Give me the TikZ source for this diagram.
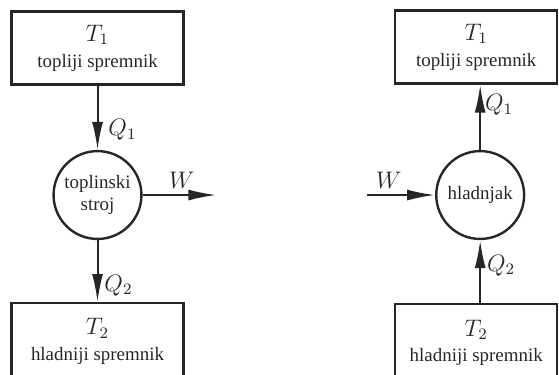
\documentclass[tikz,border=0pt]{standalone}
\usepackage{fontspec}
\setmainfont{Liberation Serif}
\usepackage{tikz}
\usetikzlibrary{arrows.meta,positioning}
\tikzset{%
	spremnik/.style = {draw, rectangle, line width=1.2pt, minimum width=3.03cm, minimum height=1.29cm, align=center, font=\fontsize{9.5}{12}\selectfont},
	stroj/.style    = {draw, circle, line width=1.2pt, minimum size=1.55cm, inner sep=0pt, align=center, font=\fontsize{9.5}{11}\selectfont}, % stroj ili hladnjak
	waypoint/.style = {coordinate},
	tok/.style      = {line width=1pt, -{Latex[length=14pt,width=5.5pt]}},
	oznaka/.style   = {font=\large, inner sep=2pt},
}
\newcommand{\temp}[1]{{\large $T_{#1}$}}

\begin{document}
\begin{tikzpicture}[color=black!85]
	\useasboundingbox (0,0) rectangle (9.86,6.6);
	% toplinski stroj
	\node[stroj] (ts) at (1.72,3.16) {toplinski\\stroj};
	\node[spremnik,above=1.13cm of ts] (T1a) {\temp{1}\\[1pt] topliji spremnik};
	\node[spremnik,minimum height=1.36cm,below=1.09cm of ts] (T2a) {\temp{2}\\[1pt] hladniji spremnik};
	\node[waypoint,right=1.3cm of ts] (Wa) {};
	
	\draw[tok] (T1a) -- node[oznaka,pos=0.69,right,xshift=3pt] {$Q_1$} (ts);
	\draw[tok] (ts) -- node[oznaka,pos=0.73,right,xshift=1pt] {$Q_2$} (T2a);
	\draw[tok] (ts) -- node[oznaka,pos=0.53,above,yshift=1pt] {$W$} (Wa);
	
	% hladnjak
	\node[stroj] (hl) at (8.47,3.16) {hladnjak};
	\node[spremnik,minimum width=2.86cm,above=1.15cm of hl,xshift=-0.07cm] (T1b) {\temp{1}\\[1pt] topliji spremnik};
	\node[spremnik,minimum width=2.86cm,minimum height=1.36cm,below=1.11cm of hl,xshift=-0.07cm] (T2b) {\temp{2}\\[1pt] hladniji spremnik};
	\node[waypoint,left=1.2cm of hl] (Wb) {};
	
	\draw[tok] (hl) -- node[oznaka,pos=0.69,right] {$Q_1$} (hl |- T1b.south);
	\draw[tok] (hl |- T2b.north) -- node[oznaka,pos=0.6,right,xshift=1pt] {$Q_2$} (hl);
	\draw[tok] (Wb) -- node[oznaka,pos=0.32,above,yshift=1pt] {$W$} (hl);
\end{tikzpicture}
\end{document}
